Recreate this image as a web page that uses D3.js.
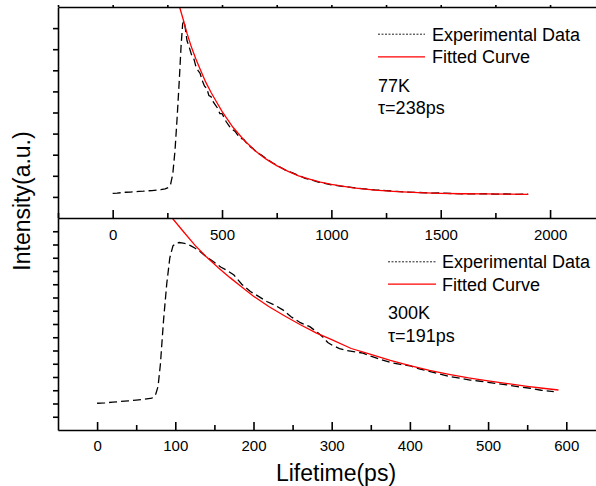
<!DOCTYPE html>
<html>
<head>
<meta charset="utf-8">
<script src="https://cdn.jsdelivr.net/npm/d3@7"></script>
<style>
  body { margin: 0; background: #fff; }
  svg text { font-family: "Liberation Sans", Arial, sans-serif; fill: #000; }
  .axis path, .axis line { stroke: #000; stroke-width: 1.6; }
</style>
</head>
<body>
<div id="chart"></div>
<script>
// ---- data ----
// top panel: 77K, x in ps, y in arbitrary units (0..10)
var exp77 = [[0,1.17],[20,1.18],[40,1.2],[60,1.22],[80,1.23],[100,1.24],[120,1.26],[140,1.27],[160,1.29],[180,1.3],
  [200,1.32],[220,1.34],[240,1.38],[255,1.45],[265,1.6],[275,2.1],[285,3.2],[295,4.8],[305,6.6],[313,8.2],[320,9.2],
  [326,9.35],[332,9.0],[340,8.4],[350,8.1],[360,7.75],[370,7.6],[380,7.2],[390,7.0],[400,6.85],[410,6.5],[420,6.25],
  [430,6.15],[440,5.8],[450,5.75],[460,5.5],[470,5.35],[480,5.2],[490,4.95],[500,4.95],[520,4.55],[540,4.25],[560,4.1],
  [580,3.8],[600,3.72],[620,3.45],[640,3.3],[660,3.1],[680,2.98],[700,2.83],[730,2.62],[760,2.45],[790,2.27],[820,2.15],
  [850,2.02],[880,1.88],[910,1.8],[940,1.7],[970,1.64],[1000,1.57],[1050,1.5],[1100,1.44],[1150,1.38],[1200,1.33],
  [1250,1.3],[1300,1.26],[1350,1.23],[1400,1.21],[1450,1.18],[1500,1.19],[1550,1.16],[1600,1.15],[1650,1.14],
  [1700,1.15],[1750,1.13],[1800,1.14],[1850,1.12],[1900,1.13]];
var fit77 = [[306,10.0],[320,9.5],[340,8.75],[360,8.1],[380,7.55],[400,7.05],[425,6.45],[450,5.95],[475,5.5],[500,5.05],
  [550,4.3],[600,3.7],[650,3.2],[700,2.8],[750,2.48],[800,2.22],[850,2.0],[900,1.84],[950,1.7],[1000,1.59],[1100,1.43],
  [1200,1.32],[1300,1.25],[1400,1.2],[1500,1.17],[1600,1.15],[1700,1.14],[1800,1.13],[1900,1.12]];

// bottom panel: 300K, y 0..16
var exp300 = [[0,2.02],[10,2.05],[20,2.1],[30,2.15],[40,2.2],[50,2.26],[60,2.32],[70,2.4],[75,2.7],[78,3.3],[81,5.0],
  [85,8.3],[89,11.0],[93,13.0],[97,13.9],[101,14.1],[105,14.15],[110,14.1],[115,14.05],[120,13.9],[126,13.7],[132,13.45],
  [140,13.05],[149,12.7],[158,12.3],[166,12.05],[175,11.7],[185,11.0],[196,10.45],[206,10.1],[217,9.7],[228,9.4],
  [238,9.05],[248,8.55],[260,8.1],[272,7.8],[282,7.35],[289,7.0],[295,6.6],[302,6.35],[310,6.15],[319,6.0],[330,5.9],
  [340,5.8],[351,5.55],[362,5.33],[375,5.1],[388,4.95],[400,4.85],[413,4.6],[426,4.4],[440,4.2],[452,4.02],[465,3.9],
  [477,3.77],[490,3.68],[500,3.6],[512,3.5],[524,3.4],[540,3.25],[554,3.15],[568,3.0],[584,2.89]];
var fit300 = [[96,16.0],[110,15.0],[125,13.95],[140,13.05],[155,12.25],[170,11.5],[185,10.8],[200,10.1],[220,9.3],
  [240,8.6],[260,7.94],[280,7.33],[300,6.82],[325,6.15],[350,5.7],[375,5.25],[400,4.86],[425,4.5],[450,4.2],[475,3.93],
  [500,3.7],[525,3.5],[550,3.3],[570,3.15],[590,3.02]];

var topMajor = [0, 500, 1000, 1500, 2000];
var topMinor = [-250, 250, 750, 1250, 1750];
var botMajor = [0, 100, 200, 300, 400, 500, 600];
var botMinor = [50, 150, 250, 350, 450, 550];

var W = 596, H = 486;
var left = 58, right = 596;

var svg = d3.select("#chart").append("svg").attr("width", W).attr("height", H);

var xTop = d3.scaleLinear().domain([-250, 2210]).range([left, right]);
var yTop = d3.scaleLinear().domain([0, 10]).range([218, 7]);
var xBot = d3.scaleLinear().domain([-50, 638]).range([left, right]);
var yBot = d3.scaleLinear().domain([0, 16]).range([430, 218]);

var defs = svg.append("defs");
defs.append("clipPath").attr("id", "clipTop").append("rect")
  .attr("x", left).attr("y", 7).attr("width", right - left).attr("height", 211);
defs.append("clipPath").attr("id", "clipBot").append("rect")
  .attr("x", left).attr("y", 218).attr("width", right - left).attr("height", 212);

function panel(x, y, expData, fitData, clip) {
  var line = d3.line().x(function(d) { return x(d[0]); }).y(function(d) { return y(d[1]); });
  var g = svg.append("g").attr("clip-path", "url(#" + clip + ")");
  g.append("path").datum(expData).attr("d", line)
    .attr("fill", "none").attr("stroke", "#000").attr("stroke-width", 1.3)
    .attr("stroke-dasharray", "8,4");
  g.append("path").datum(fitData).attr("d", line)
    .attr("fill", "none").attr("stroke", "#ff0000").attr("stroke-width", 1.3);
}

panel(xTop, yTop, exp77, fit77, "clipTop");
panel(xBot, yBot, exp300, fit300, "clipBot");

// x axes (ticks point inward/up, labels below)
function xAxis(x, yPos, major, minor, pad) {
  svg.append("g").attr("class", "axis").attr("transform", "translate(0," + yPos + ")")
    .call(d3.axisBottom(x).tickValues(minor).tickSize(-5).tickFormat(""))
    .call(function(g) { g.select(".domain").remove(); });
  svg.append("g").attr("class", "axis").attr("transform", "translate(0," + yPos + ")")
    .call(d3.axisBottom(x).tickValues(major).tickSizeInner(-8).tickSizeOuter(0).tickPadding(pad).tickFormat(d3.format("d")))
    .call(function(g) {
      g.selectAll("text").attr("font-size", 15).attr("font-family", "Liberation Sans, Arial, sans-serif");
    });
}
xAxis(xTop, 218, topMajor, topMinor, 11);
xAxis(xBot, 430, botMajor, botMinor, 10.5);

// top border with small mirrored ticks
svg.append("g").attr("class", "axis").attr("transform", "translate(0,7)")
  .call(d3.axisTop(xTop).tickValues(topMajor.concat(topMinor)).tickSizeInner(2).tickSizeOuter(0).tickFormat(""));

// left y axes, no labels
function yAxis(y, vals) {
  svg.append("g").attr("class", "axis").attr("transform", "translate(" + left + ",0)")
    .call(d3.axisLeft(y).tickValues(vals).tickSizeInner(5).tickSizeOuter(0).tickFormat(""));
}
yAxis(yTop, d3.range(1, 10));
yAxis(yBot, d3.range(1, 16));

// axis titles
svg.append("text").attr("x", 336).attr("y", 481).attr("text-anchor", "middle")
  .attr("font-size", 23).text("Lifetime(ps)");
svg.append("text").attr("transform", "translate(30,201) rotate(-90)").attr("text-anchor", "middle")
  .attr("font-size", 23).text("Intensity(a.u.)");

// legends
function legend(lx0, lx1, tx, yExp, yFit, label, tau) {
  svg.append("line").attr("x1", lx0).attr("x2", lx1).attr("y1", yExp - 6.5).attr("y2", yExp - 6.5)
    .attr("stroke", "#222").attr("stroke-width", 1).attr("stroke-dasharray", "2,1.5");
  svg.append("line").attr("x1", lx0).attr("x2", lx1).attr("y1", yFit - 6.5).attr("y2", yFit - 6.5)
    .attr("stroke", "#ff0000").attr("stroke-width", 1.3);
  svg.append("text").attr("x", tx).attr("y", yExp).attr("font-size", 18).text("Experimental Data");
  svg.append("text").attr("x", tx).attr("y", yFit).attr("font-size", 18).text("Fitted Curve");
  svg.append("text").attr("x", lx0).attr("y", yFit + 28.5).attr("font-size", 18).text(label);
  svg.append("text").attr("x", lx0).attr("y", yFit + 51).attr("font-size", 18).text(tau);
}
legend(378, 425, 432, 40.7, 63.3, "77K", "τ=238ps");
legend(388, 436, 442, 268.3, 290.7, "300K", "τ=191ps");
</script>
</body>
</html>
